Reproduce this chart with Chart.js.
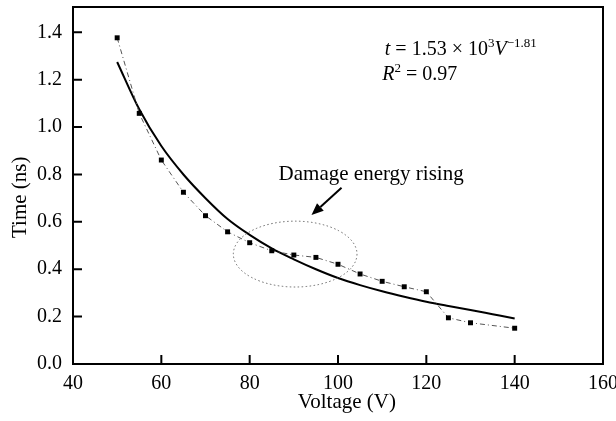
<!DOCTYPE html>
<html><head><meta charset="utf-8">
<script src="https://cdn.jsdelivr.net/npm/chart.js@4/dist/chart.umd.min.js"></script>
<style>html,body{margin:0;padding:0;background:#fff}#wrap{width:616px;height:421px;position:relative}</style>
</head><body><div id="wrap"><canvas id="c"></canvas></div>
<script>
// Measured data (Voltage V, Time ns)
const voltage = [50,55,60,65,70,75,80,85,90,95,100,105,110,115,120,125,130,140];
const timeNs  = [1.377,1.058,0.861,0.725,0.626,0.558,0.512,0.478,0.46,0.45,0.421,0.38,0.349,0.326,0.305,0.195,0.174,0.151];
// Fitted curve
const fitVoltage = [50,55,60,65,70,75,80,85,90,95,100,105,110,115,120,125,130,135,140];
const fitTime    = [1.275,1.075,0.92,0.80,0.70,0.612,0.545,0.488,0.442,0.400,0.363,0.333,0.307,0.284,0.263,0.245,0.228,0.21,0.192];
// Tick labels
const xTicks = [40,60,80,100,120,140,160];
const yTicks = [0.0,0.2,0.4,0.6,0.8,1.0,1.2,1.4];
const xTitle = 'Voltage (V)';
const yTitle = 'Time (ns)';

const FONT = "'Liberation Serif','Times New Roman',serif";

const framePlugin = {
  id:'frame',
  afterDraw(chart){
    const {ctx, chartArea:a, scales:{x,y}} = chart;
    ctx.save();
    ctx.strokeStyle='#000'; ctx.lineWidth=2;
    ctx.strokeRect(a.left, a.top, a.right-a.left, a.bottom-a.top);
    // inward ticks
    ctx.beginPath();
    xTicks.forEach(v=>{const px=x.getPixelForValue(v); ctx.moveTo(px,a.bottom); ctx.lineTo(px,a.bottom-9);});
    yTicks.forEach(v=>{const py=y.getPixelForValue(v); ctx.moveTo(a.left,py); ctx.lineTo(a.left+9,py);});
    ctx.stroke();

    // axis titles
    ctx.fillStyle='#000';
    ctx.font="21px "+FONT; ctx.textAlign='center'; ctx.textBaseline='alphabetic';
    ctx.fillText(xTitle, x.getPixelForValue(102), 408);
    ctx.save(); ctx.translate(26, y.getPixelForValue(0.704)); ctx.rotate(-Math.PI/2);
    ctx.fillText(yTitle, 0, 0); ctx.restore();

    // dotted ellipse
    const cx=x.getPixelForValue(90.3), cy=y.getPixelForValue(0.464);
    const rx=x.getPixelForValue(104.3)-cx, ry=cy-y.getPixelForValue(0.603);
    ctx.beginPath(); ctx.setLineDash([1.5,2.5]); ctx.lineWidth=1; ctx.strokeStyle='#666';
    ctx.ellipse(cx,cy,rx,ry,0,0,Math.PI*2); ctx.stroke(); ctx.setLineDash([]);

    // arrow
    const x0=x.getPixelForValue(100.8), y0=y.getPixelForValue(0.744);
    const x1=x.getPixelForValue(94.0), y1=y.getPixelForValue(0.629);
    const ang=Math.atan2(y1-y0,x1-x0);
    const hl=12, hw=5;
    const bx=x1-hl*Math.cos(ang), by=y1-hl*Math.sin(ang);
    ctx.strokeStyle='#000'; ctx.lineWidth=2;
    ctx.beginPath(); ctx.moveTo(x0,y0); ctx.lineTo(bx,by); ctx.stroke();
    ctx.beginPath(); ctx.moveTo(x1,y1);
    ctx.lineTo(bx+hw*Math.sin(ang), by-hw*Math.cos(ang));
    ctx.lineTo(bx-hw*Math.sin(ang), by+hw*Math.cos(ang));
    ctx.closePath(); ctx.fill();

    // annotation text
    ctx.font = "21px "+FONT; ctx.textAlign='center'; ctx.textBaseline='alphabetic';
    ctx.fillText('Damage energy rising', x.getPixelForValue(107.5), y.getPixelForValue(0.775));

    // equation
    ctx.textAlign='left';
    let px=x.getPixelForValue(110.6), base=y.getPixelForValue(1.304);
    const part=(t,f,dy=0)=>{ctx.font=f; ctx.fillText(t,px,base+dy); px+=ctx.measureText(t).width;};
    part('t','italic 20px '+FONT);
    part(' = 1.53 × 10','20px '+FONT);
    part('3','13px '+FONT,-8);
    part('V','italic 20px '+FONT);
    part('−1.81','13px '+FONT,-8);
    px=x.getPixelForValue(110.0); base=y.getPixelForValue(1.197);
    part('R','italic 20px '+FONT);
    part('2','13px '+FONT,-8);
    part(' = 0.97','20px '+FONT);
    ctx.restore();
  }
};

const zeroPad = s => { s.paddingTop=0; s.paddingBottom=0; s.paddingLeft=0; s.paddingRight=0; };

new Chart(document.getElementById('c'), {
  data:{
    datasets:[
      {type:'line', label:'Fit', data:fitVoltage.map((v,i)=>({x:v,y:fitTime[i]})),
       borderColor:'#000', borderWidth:2, pointRadius:0, cubicInterpolationMode:'monotone', fill:false, order:2},
      {type:'line', label:'Data', data:voltage.map((v,i)=>({x:v,y:timeNs[i]})),
       borderColor:'#555', borderWidth:1, borderDash:[5,3,1,3], pointStyle:'rect', pointRadius:3.5,
       pointBackgroundColor:'#000', pointBorderColor:'#000', pointBorderWidth:0, fill:false, tension:0, order:1}
    ]
  },
  options:{
    responsive:true, maintainAspectRatio:false, animation:false, devicePixelRatio:1,
    layout:{padding:{top:7,right:13,left:0,bottom:0}},
    plugins:{legend:{display:false}, tooltip:{enabled:false}},
    scales:{
      x:{type:'linear', position:'bottom', min:40, max:160,
         afterBuildTicks:s=>{s.ticks=xTicks.map(v=>({value:v}));},
         afterFit:s=>{s.height=57; zeroPad(s);},
         grid:{display:true, drawOnChartArea:false, drawTicks:false},
         border:{display:true,color:'#000',width:2},
         ticks:{color:'#000', padding:8, font:{family:FONT,size:20}, maxRotation:0},
         title:{display:false}},
      y:{type:'linear', position:'left', min:0, max:1.507,
         afterBuildTicks:s=>{s.ticks=yTicks.map(v=>({value:v}));},
         afterFit:s=>{s.width=73; zeroPad(s);},
         grid:{display:true, drawOnChartArea:false, drawTicks:false},
         border:{display:true,color:'#000',width:2},
         ticks:{color:'#000', padding:11, font:{family:FONT,size:20}, callback:v=>Number(v).toFixed(1)},
         title:{display:false}}
    }
  },
  plugins:[framePlugin]
});
</script></body></html>
